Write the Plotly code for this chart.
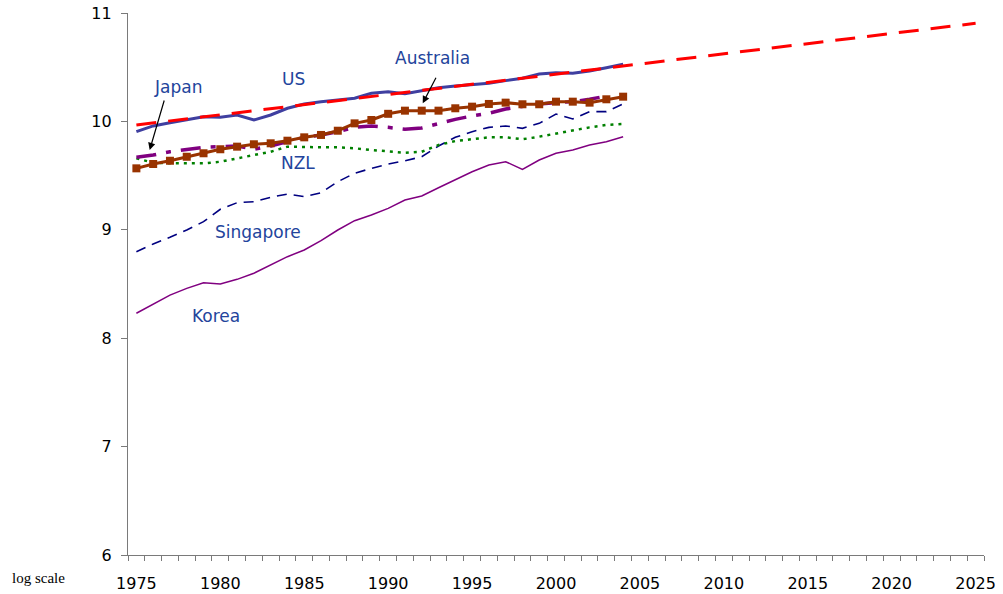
import plotly.graph_objects as go

# GDP per capita (log scale), 1975-2004, with US trend to 2025
years = list(range(1975, 2005))

us = [9.905, 9.958, 9.988, 10.019, 10.043, 10.038, 10.059, 10.013, 10.059, 10.121,
      10.161, 10.182, 10.197, 10.213, 10.259, 10.274, 10.256, 10.287, 10.311, 10.327,
      10.336, 10.351, 10.376, 10.398, 10.437, 10.449, 10.444, 10.465, 10.495, 10.527]

us_trend_years = [1975, 2025]
us_trend = [9.967, 10.905]

australia = [9.567, 9.607, 9.637, 9.674, 9.706, 9.743, 9.767, 9.789, 9.798, 9.822,
             9.853, 9.875, 9.914, 9.982, 10.013, 10.07, 10.099, 10.099, 10.099, 10.121,
             10.136, 10.161, 10.173, 10.158, 10.158, 10.182, 10.182, 10.173, 10.204, 10.228]

japan_years = list(range(1975, 2004))
japan = [9.669, 9.69, 9.72, 9.743, 9.761, 9.767, 9.773, 9.743, 9.773, 9.813,
         9.853, 9.875, 9.905, 9.945, 9.958, 9.945, 9.927, 9.94, 9.982, 10.019,
         10.05, 10.075, 10.114, 10.136, 10.161, 10.173, 10.182, 10.204, 10.234]

nzl = [9.659, 9.619, 9.613, 9.613, 9.613, 9.628, 9.659, 9.69, 9.72, 9.767,
       9.761, 9.761, 9.761, 9.752, 9.736, 9.72, 9.711, 9.72, 9.782, 9.819,
       9.835, 9.853, 9.853, 9.835, 9.859, 9.889, 9.92, 9.945, 9.967, 9.976]

singapore = [8.798, 8.869, 8.931, 8.998, 9.075, 9.189, 9.25, 9.259, 9.3, 9.33,
             9.306, 9.342, 9.444, 9.521, 9.567, 9.607, 9.637, 9.674, 9.773, 9.853,
             9.905, 9.945, 9.958, 9.936, 9.982, 10.068, 10.022, 10.09, 10.09, 10.161]

korea = [8.23, 8.315, 8.398, 8.46, 8.512, 8.5, 8.543, 8.599, 8.675, 8.752,
         8.814, 8.9, 8.998, 9.084, 9.137, 9.198, 9.275, 9.312, 9.388, 9.459,
         9.536, 9.598, 9.628, 9.558, 9.644, 9.706, 9.736, 9.782, 9.813, 9.859]

year_labels = list(range(1975, 2026, 5))

LABEL_BLUE = "#23449C"
AXIS_GREY = "#7a7a7a"

fig = go.Figure()

fig.add_trace(go.Scatter(x=years, y=korea, mode="lines",
                         line=dict(color="#800080", width=1.5)))
fig.add_trace(go.Scatter(x=years, y=singapore, mode="lines",
                         line=dict(color="#000080", width=1.6, dash="10px,7px")))
fig.add_trace(go.Scatter(x=years, y=nzl, mode="lines",
                         line=dict(color="#008000", width=2.5, dash="3px,5px")))
fig.add_trace(go.Scatter(x=japan_years, y=japan, mode="lines",
                         line=dict(color="#800080", width=3.5, dash="20px,10px,5px,10px")))
fig.add_trace(go.Scatter(x=years, y=australia, mode="lines+markers",
                         line=dict(color="#993300", width=3),
                         marker=dict(symbol="square", size=8, color="#993300")))
fig.add_trace(go.Scatter(x=years, y=us, mode="lines",
                         line=dict(color="#3F3FA0", width=3)))
fig.add_trace(go.Scatter(x=us_trend_years, y=us_trend, mode="lines",
                         line=dict(color="#FF0000", width=3, dash="20px,12px")))

# Series labels
labels = [
    ("US", 1984.34, 10.391),
    ("Japan", 1977.49, 10.313),
    ("Australia", 1992.67, 10.585),
    ("NZL", 1984.64, 9.616),
    ("Singapore", 1982.26, 8.98),
    ("Korea", 1979.76, 8.205),
]
for text, lx, ly in labels:
    fig.add_annotation(x=lx, y=ly, text=text, showarrow=False,
                       font=dict(family="DejaVu Sans", size=17, color=LABEL_BLUE))

# Pointer arrows for Japan and Australia
fig.add_annotation(x=1975.79, y=9.736, ax=15, ay=-51, text="", showarrow=True,
                   arrowhead=2, arrowsize=1.2, arrowwidth=1.2, arrowcolor="black")
fig.add_annotation(x=1992.06, y=10.167, ax=14, ay=-27, text="", showarrow=True,
                   arrowhead=2, arrowsize=1.2, arrowwidth=1.2, arrowcolor="black")

fig.add_annotation(xref="paper", yref="paper", x=-0.104, y=-0.0424,
                   xanchor="center", yanchor="middle",
                   text="log scale", showarrow=False,
                   font=dict(family="Liberation Serif", size=15, color="black"))

fig.update_layout(
    width=1003, height=594,
    margin=dict(l=128, r=19, t=13, b=39),
    paper_bgcolor="white", plot_bgcolor="white",
    showlegend=False,
    font=dict(family="DejaVu Sans", size=16, color="black"),
    xaxis=dict(range=[1974.5, 2025.5], tickvals=year_labels, ticks="",
               ticklabelstandoff=14, automargin=False,
               minor=dict(tick0=1974.5, dtick=1, ticks="outside", ticklen=5,
                          tickcolor=AXIS_GREY, showgrid=False),
               showline=True, linecolor=AXIS_GREY, linewidth=1.3,
               showgrid=False, zeroline=False),
    yaxis=dict(range=[6, 11], dtick=1, ticks="outside", ticklen=6,
               tickcolor=AXIS_GREY, showline=True, linecolor=AXIS_GREY,
               linewidth=1.3, showgrid=False, zeroline=False,
               ticklabelstandoff=6, automargin=False),
)

fig.write_html("out.html")
